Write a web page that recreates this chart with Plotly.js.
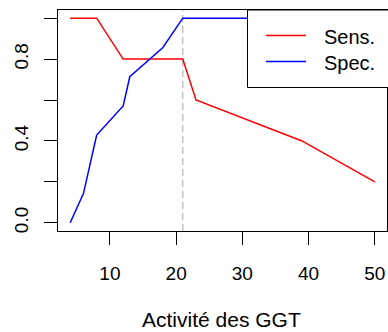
<!DOCTYPE html>
<html>
<head>
<meta charset="utf-8">
<script src="https://cdn.plot.ly/plotly-3.0.1.min.js"></script>
<style>html,body{margin:0;padding:0;background:#fff;}#chart{width:388px;height:332px;}</style>
</head>
<body>
<div id="chart"></div>
<script>
// Data
var thresholds = [4, 6, 8, 12, 13, 18, 21, 23, 39, 50];
var sensitivity = [1.0, 1.0, 1.0, 0.8, 0.8, 0.8, 0.8, 0.6, 0.4, 0.2];
var specificity = [0.0, 0.143, 0.429, 0.571, 0.714, 0.857, 1.0, 1.0, 1.0, 1.0];
var seriesNames = ["Sens.", "Spec."];
var seriesColors = ["#ff0000", "#0000ff"];
var cutoff = 21;
var xTickVals = [10, 20, 30, 40, 50];
var yTickVals = [0, 0.2, 0.4, 0.6, 0.8, 1.0];
var yTickText = ["0.0", "", "0.4", "", "0.8", ""];
var xTitle = "Activité des GGT";

var W = 388, H = 332;
var M = {l: 58, r: 1, t: 10, b: 101};
var pw = W - M.l - M.r, ph = H - M.t - M.b;
function px(x) { return (x - M.l) / pw; }
function py(y) { return 1 - (y - M.t) / ph; }

var font = "Liberation Sans, Arial, Helvetica, sans-serif";

var traces = [
  {x: thresholds, y: sensitivity, name: seriesNames[0], type: "scatter", mode: "lines",
   line: {color: seriesColors[0], width: 1.5}, showlegend: false},
  {x: thresholds, y: specificity, name: seriesNames[1], type: "scatter", mode: "lines",
   line: {color: seriesColors[1], width: 1.5}, showlegend: false}
];

var shapes = [
  {type: "line", xref: "x", yref: "paper", x0: cutoff, x1: cutoff, y0: 0, y1: 1,
   line: {color: "#b4b4b4", width: 1.2, dash: "7px,4px"}, layer: "below"},
  // legend box
  {type: "rect", xref: "paper", yref: "paper", x0: px(247.5), x1: px(389), y0: py(87.5), y1: py(10),
   fillcolor: "#ffffff", line: {color: "#000000", width: 1}},
  {type: "line", xref: "paper", yref: "paper", x0: px(266), x1: px(306), y0: py(35.5), y1: py(35.5),
   line: {color: seriesColors[0], width: 1.5}},
  {type: "line", xref: "paper", yref: "paper", x0: px(266), x1: px(306), y0: py(61.5), y1: py(61.5),
   line: {color: seriesColors[1], width: 1.5}}
];

var annotations = [
  {xref: "paper", yref: "paper", x: px(322), y: py(37), xanchor: "left", yanchor: "middle",
   text: seriesNames[0], showarrow: false, font: {family: font, size: 20, color: "#000"}},
  {xref: "paper", yref: "paper", x: px(322), y: py(63), xanchor: "left", yanchor: "middle",
   text: seriesNames[1], showarrow: false, font: {family: font, size: 20, color: "#000"}},
  {xref: "paper", yref: "paper", x: px(221), y: py(319), xanchor: "center", yanchor: "middle",
   text: xTitle, showarrow: false, font: {family: font, size: 21, color: "#000"}}
];

var layout = {
  width: W, height: H,
  margin: M,
  paper_bgcolor: "#ffffff", plot_bgcolor: "#ffffff",
  font: {family: font, size: 19, color: "#000"},
  xaxis: {range: [2.16, 51.84], tickmode: "array", tickvals: xTickVals,
    ticks: "outside", ticklen: 13, tickwidth: 1, tickcolor: "#000",
    showline: true, mirror: true, linecolor: "#000", linewidth: 1,
    showgrid: false, zeroline: false, ticklabelstandoff: 12,
    tickfont: {family: font, size: 19}},
  yaxis: {range: [-0.04, 1.04], tickmode: "array", tickvals: yTickVals, ticktext: yTickText,
    tickangle: -90,
    ticks: "outside", ticklen: 13, tickwidth: 1, tickcolor: "#000",
    showline: true, mirror: true, linecolor: "#000", linewidth: 1,
    showgrid: false, zeroline: false, ticklabelstandoff: 8,
    tickfont: {family: font, size: 19}},
  shapes: shapes,
  annotations: annotations,
  showlegend: false
};

Plotly.newPlot("chart", traces, layout, {displayModeBar: false, staticPlot: true});
</script>
</body>
</html>
